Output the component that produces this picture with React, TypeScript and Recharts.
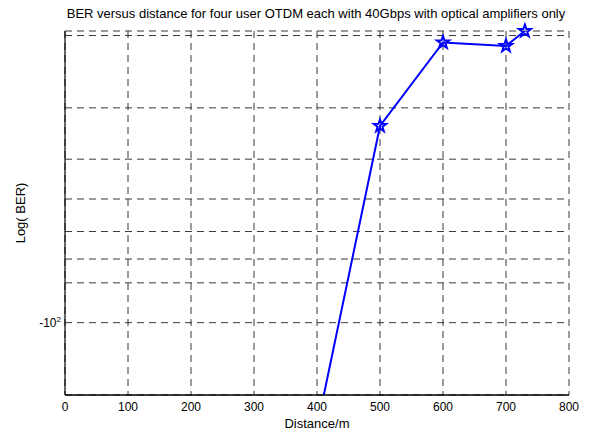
import { LineChart, Line, XAxis, YAxis, CartesianGrid, Label } from "recharts";

// distance in m, Log(BER)
const distance = [400, 500, 600, 700, 730];
const logBer = [-180, -33.2, -20.8, -21.2, -19.5];

const xTicks = [0, 100, 200, 300, 400, 500, 600, 700, 800];
const yTicks = [-20, -30, -40, -50, -60, -70, -80, -90, -100];
const Y_MIN = -150;
const Y_MAX = -19.5;

const TITLE = "BER versus distance for four user OTDM each with 40Gbps with optical amplifiers only";

const data = distance.map((d, i) => ({ distance: d, ber: logBer[i] }));
// only points that fall inside the y range get a marker
const markData = data.filter((p) => p.ber >= Y_MIN && p.ber <= Y_MAX);

const FONT = "'Liberation Sans', Arial, sans-serif";

const starPath = (cx: number, cy: number, R: number, r: number) => {
  let d = "";
  for (let i = 0; i < 10; i++) {
    const rad = i % 2 === 0 ? R : r;
    const a = -Math.PI / 2 + (i * Math.PI) / 5;
    d += `${i === 0 ? "M" : "L"}${cx + rad * Math.cos(a)},${cy + rad * Math.sin(a)}`;
  }
  return d + "Z";
};

const StarDot = (props: any) => {
  const { cx, cy, index } = props;
  if (cx == null || cy == null) return <g key={index} />;
  return (
    <path
      key={index}
      d={starPath(cx, cy, 6.5, 2.6)}
      fill="none"
      stroke="#0000ff"
      strokeWidth={2}
      strokeLinejoin="miter"
    />
  );
};

const YTick = (props: any) => {
  const { x, y, payload } = props;
  if (payload.value !== -100) return <g />;
  return (
    <text x={x} y={y} dy={4} textAnchor="end" fontSize={12} fill="#000">
      <tspan>-10</tspan>
      <tspan dy={-5} fontSize={8}>
        2
      </tspan>
    </text>
  );
};

export default function App() {
  return (
    <div style={{ position: "absolute", left: 0, top: 0, width: 589, height: 432, fontFamily: FONT, background: "#fff" }}>
      <div
        style={{
          position: "absolute",
          top: 6,
          left: 0,
          width: 632,
          textAlign: "center",
          fontSize: 13,
          lineHeight: "15px",
          whiteSpace: "nowrap",
          color: "#000",
        }}
      >
        {TITLE}
      </div>
      <LineChart width={589} height={432} margin={{ top: 31, right: 20, bottom: 17, left: 25 }}>
        <CartesianGrid stroke="#222" strokeDasharray="7 5" strokeWidth={0.9} />
        <XAxis
          dataKey="distance"
          type="number"
          domain={[0, 800]}
          ticks={xTicks}
          tickLine={false}
          tickSize={4}
          tickMargin={3}
          height={20}
          axisLine={{ stroke: "#000", strokeWidth: 1.5 }}
          tick={{ fontSize: 12, fill: "#000" }}
        >
          <Label value="Distance/m" position="bottom" offset={4} fontSize={13} fill="#000" />
        </XAxis>
        <XAxis
          xAxisId="top"
          orientation="top"
          type="number"
          domain={[0, 800]}
          height={0}
          tick={false}
          tickLine={false}
          axisLine={{ stroke: "#000" }}
        />
        <YAxis
          dataKey="ber"
          type="number"
          scale="log"
          domain={[Y_MIN, Y_MAX]}
          allowDataOverflow
          ticks={yTicks}
          tickLine={false}
          tickSize={4}
          tickMargin={0}
          width={40}
          axisLine={{ stroke: "#000", strokeWidth: 1.2 }}
          tick={<YTick />}
        >
          <Label
            value="Log( BER)"
            position="left"
            offset={5}
            angle={-90}
            fontSize={13}
            fill="#000"
            style={{ textAnchor: "middle" }}
          />
        </YAxis>
        <YAxis yAxisId="marks" hide type="number" scale="log" domain={[Y_MIN, Y_MAX]} />
        <YAxis
          yAxisId="right"
          orientation="right"
          width={0}
          tick={false}
          tickLine={false}
          axisLine={{ stroke: "#000", strokeWidth: 1.2 }}
        />
        <Line
          data={data}
          dataKey="ber"
          stroke="#0000ff"
          strokeWidth={2}
          dot={false}
          isAnimationActive={false}
        />
        <Line
          data={markData}
          dataKey="ber"
          yAxisId="marks"
          stroke="none"
          dot={StarDot}
          activeDot={false}
          isAnimationActive={false}
        />
      </LineChart>
    </div>
  );
}
